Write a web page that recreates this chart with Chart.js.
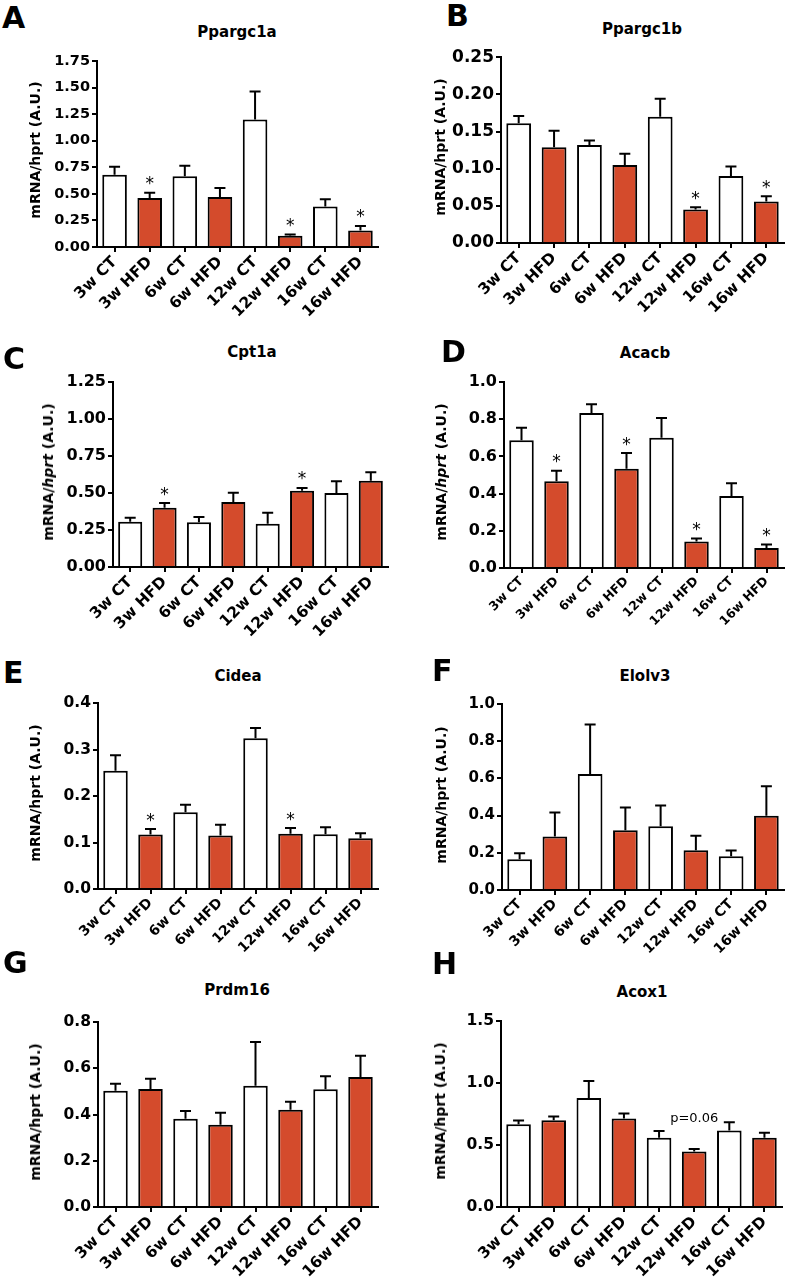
<!DOCTYPE html>
<html><head><meta charset="utf-8">
<script src="https://cdn.jsdelivr.net/npm/chart.js@4.4.1/dist/chart.umd.min.js"></script>
<style>
html,body{margin:0;padding:0;background:#fff;}
body{width:787px;height:1278px;position:relative;overflow:hidden;font-family:"DejaVu Sans",sans-serif;color:#000;}
canvas{position:absolute;}
.t{position:absolute;white-space:nowrap;line-height:1;font-weight:bold;color:#000;}
</style></head><body>
<script>
// ---------- data ----------
const categories = ['3w CT','3w HFD','6w CT','6w HFD','12w CT','12w HFD','16w CT','16w HFD'];

const ticksA = ['0.00','0.25','0.50','0.75','1.00','1.25','1.50','1.75'];
const meanA  = [0.68, 0.46, 0.665, 0.47, 1.20, 0.105, 0.38, 0.155];
const semA   = [0.075, 0.05, 0.10, 0.085, 0.264, 0.012, 0.069, 0.043];
const marksA = ['', '*', '', '', '', '*', '', '*'];

const ticksB = ['0.00','0.05','0.10','0.15','0.20','0.25'];
const meanB  = [0.161, 0.129, 0.132, 0.105, 0.170, 0.045, 0.090, 0.056];
const semB   = [0.010, 0.022, 0.006, 0.015, 0.024, 0.003, 0.013, 0.007];
const marksB = ['', '', '', '', '', '*', '', '*'];

const ticksC = ['0.00','0.25','0.50','0.75','1.00','1.25'];
const meanC  = [0.306, 0.401, 0.302, 0.439, 0.293, 0.516, 0.50, 0.583];
const semC   = [0.027, 0.031, 0.036, 0.063, 0.074, 0.018, 0.079, 0.057];
const marksC = ['', '*', '', '', '', '*', '', ''];

const ticksD = ['0.0','0.2','0.4','0.6','0.8','1.0'];
const meanD  = [0.6875, 0.466, 0.834, 0.534, 0.70, 0.143, 0.3875, 0.107];
const semD   = [0.067, 0.057, 0.046, 0.084, 0.107, 0.016, 0.068, 0.020];
const marksD = ['', '*', '', '*', '', '*', '', '*'];

const ticksE = ['0.0','0.1','0.2','0.3','0.4'];
const meanE  = [0.2545, 0.117, 0.165, 0.115, 0.324, 0.119, 0.118, 0.109];
const semE   = [0.033, 0.012, 0.016, 0.023, 0.022, 0.012, 0.015, 0.011];
const marksE = ['', '*', '', '', '', '*', '', ''];

const ticksF = ['0.0','0.2','0.4','0.6','0.8','1.0'];
const meanF  = [0.165, 0.287, 0.623, 0.321, 0.343, 0.214, 0.181, 0.399];
const semF   = [0.032, 0.130, 0.267, 0.122, 0.111, 0.077, 0.031, 0.159];
const marksF = ['', '', '', '', '', '', '', ''];

const ticksG = ['0.0','0.2','0.4','0.6','0.8'];
const meanG  = [0.503, 0.51, 0.382, 0.356, 0.524, 0.421, 0.509, 0.562];
const semG   = [0.030, 0.045, 0.033, 0.052, 0.190, 0.034, 0.056, 0.092];
const marksG = ['', '', '', '', '', '', '', ''];

const ticksH = ['0.0','0.5','1.0','1.5'];
const meanH  = [0.668, 0.70, 0.88, 0.714, 0.558, 0.448, 0.617, 0.558];
const semH   = [0.030, 0.030, 0.137, 0.040, 0.054, 0.019, 0.067, 0.040];
const marksH = ['', '', '', '', '', 'p=0.06', '', ''];

// ---------- styling / layout ----------
const RED = '#D44B2C';
const FAMILY = '"DejaVu Sans", sans-serif';
const Y_AXIS_W = 60, X_AXIS_H = 70, PAD_TOP = 12, PAD_RIGHT = 3;

const panels = [
  {letter:'A', title:'Ppargc1a', italic:false, mean:meanA, sem:semA, marks:marksA, ticks:ticksA,
   geo:{ax:97, ty:61, by:247, ex:378}, letterPos:[2,7], titlePos:[237,38], ylabPos:[35,150], yFont:14.5, xFont:15.5},
  {letter:'B', title:'Ppargc1b', italic:false, mean:meanB, sem:semB, marks:marksB, ticks:ticksB,
   geo:{ax:501, ty:57, by:243, ex:784}, letterPos:[446,5], titlePos:[642,35], ylabPos:[440,147], yFont:17, xFont:15.5},
  {letter:'C', title:'Cpt1a', italic:true, mean:meanC, sem:semC, marks:marksC, ticks:ticksC,
   geo:{ax:113, ty:382, by:567, ex:388}, letterPos:[3,348], titlePos:[252,358], ylabPos:[48,472], yFont:16, xFont:15.5},
  {letter:'D', title:'Acacb', italic:true, mean:meanD, sem:semD, marks:marksD, ticks:ticksD,
   geo:{ax:504, ty:382, by:568, ex:784}, letterPos:[441,341], titlePos:[645,359], ylabPos:[441,472], yFont:16, xFont:12.5},
  {letter:'E', title:'Cidea', italic:false, mean:meanE, sem:semE, marks:marksE, ticks:ticksE,
   geo:{ax:98, ty:703, by:889, ex:378}, letterPos:[3,662], titlePos:[238,682], ylabPos:[35,793], yFont:15.5, xFont:14},
  {letter:'F', title:'Elolv3', italic:false, mean:meanF, sem:semF, marks:marksF, ticks:ticksF,
   geo:{ax:502, ty:704, by:890, ex:784}, letterPos:[432,660], titlePos:[645,682], ylabPos:[441,795], yFont:15, xFont:14},
  {letter:'G', title:'Prdm16', italic:false, mean:meanG, sem:semG, marks:marksG, ticks:ticksG,
   geo:{ax:98, ty:1022, by:1207, ex:378}, letterPos:[3,952], titlePos:[237,996], ylabPos:[35,1112], yFont:15.5, xFont:15.5},
  {letter:'H', title:'Acox1', italic:false, mean:meanH, sem:semH, marks:marksH, ticks:ticksH,
   geo:{ax:501, ty:1021, by:1207, ex:782}, letterPos:[432,953], titlePos:[642,998], ylabPos:[440,1111], yFont:15.5, xFont:15.5}
];

function addText(html, css){
  const d = document.createElement('div');
  d.className = 't';
  d.innerHTML = html;
  Object.assign(d.style, css);
  document.body.appendChild(d);
  return d;
}

const errorBarPlugin = {
  id: 'errbars',
  afterDatasetsDraw(chart, args, opts){
    const ctx = chart.ctx;
    const meta = chart.getDatasetMeta(0);
    const data = chart.data.datasets[0].data;
    const y = chart.scales.y;
    ctx.save();
    ctx.strokeStyle = '#000';
    ctx.fillStyle = '#000';
    ctx.lineWidth = 2;
    meta.data.forEach((bar, i) => {
      const v = data[i], e = opts.sem[i];
      const yTop = y.getPixelForValue(v);
      const yErr = y.getPixelForValue(v + e);
      ctx.beginPath();
      ctx.moveTo(bar.x, yTop);
      ctx.lineTo(bar.x, yErr);
      ctx.moveTo(bar.x - 5.5, yErr);
      ctx.lineTo(bar.x + 5.5, yErr);
      ctx.stroke();
      const m = opts.marks[i];
      if (m) {
        let cy;
        if (m === '*') { ctx.font = '17px ' + FAMILY; cy = yErr - 12; }
        else { ctx.font = '13px ' + FAMILY; cy = yErr - 30; }
        const mt = ctx.measureText(m);
        ctx.textAlign = 'center';
        ctx.textBaseline = 'alphabetic';
        ctx.fillText(m, bar.x, cy + (mt.actualBoundingBoxAscent - mt.actualBoundingBoxDescent) / 2);
      }
    });
    ctx.restore();
  }
};

panels.forEach(p => {
  const g = p.geo;
  const left = g.ax - Y_AXIS_W;
  const top = g.ty - PAD_TOP;
  const w = g.ex - left + PAD_RIGHT;
  const h = g.by - top + X_AXIS_H;
  const cv = document.createElement('canvas');
  cv.width = w; cv.height = h;
  Object.assign(cv.style, {left: left + 'px', top: top + 'px', width: w + 'px', height: h + 'px'});
  document.body.appendChild(cv);

  const tickVals = p.ticks.map(Number);
  new Chart(cv, {
    type: 'bar',
    data: {
      labels: categories,
      datasets: [{
        data: p.mean,
        backgroundColor: categories.map(c => c.includes('HFD') ? RED : '#ffffff'),
        borderColor: '#000',
        borderWidth: 2,
        borderSkipped: 'start',
        barPercentage: 0.7,
        categoryPercentage: 1.0
      }]
    },
    options: {
      responsive: false,
      animation: false,
      devicePixelRatio: 1,
      layout: {padding: {top: PAD_TOP, right: PAD_RIGHT, left: 0, bottom: 0}},
      plugins: {
        legend: {display: false},
        tooltip: {enabled: false},
        title: {display: false},
        errbars: {sem: p.sem, marks: p.marks}
      },
      scales: {
        x: {
          type: 'category',
          offset: true,
          z: 1,
          grid: {display: true, drawOnChartArea: false, drawTicks: true, tickLength: 5, offset: false, color: '#000', lineWidth: 2},
          border: {display: true, color: '#000', width: 2},
          ticks: {autoSkip: false, maxRotation: 45, minRotation: 45, padding: 1, color: '#000',
                  font: {family: FAMILY, weight: 'bold', size: p.xFont}},
          afterFit(s){ s.height = X_AXIS_H; }
        },
        y: {
          min: 0,
          max: tickVals[tickVals.length - 1],
          z: 1,
          grid: {display: true, drawOnChartArea: false, drawTicks: true, tickLength: 5, color: '#000', lineWidth: 2},
          border: {display: true, color: '#000', width: 2},
          ticks: {padding: 2, color: '#000', font: {family: FAMILY, weight: 'bold', size: p.yFont},
                  callback: (v, i) => p.ticks[i]},
          afterBuildTicks(s){ s.ticks = tickVals.map(v => ({value: v})); },
          afterFit(s){ s.width = Y_AXIS_W; }
        }
      }
    },
    plugins: [errorBarPlugin]
  });

  // panel letter
  addText(p.letter, {left: p.letterPos[0] + 'px', top: (p.letterPos[1] - 0.117 * 30) + 'px', fontSize: '30px'});
  // title
  addText(p.title, {left: p.titlePos[0] + 'px', top: (p.titlePos[1] - 0.846 * 15) + 'px', fontSize: '15px', transform: 'translateX(-50%)'});
  // y label
  const yl = p.italic ? 'mRNA/<i>hprt</i> (A.U.)' : 'mRNA/hprt (A.U.)';
  addText(yl, {left: p.ylabPos[0] + 'px', top: p.ylabPos[1] + 'px', fontSize: '14px',
               transform: 'translate(-50%,-50%) rotate(-90deg)'});
});
</script>
</body></html>
